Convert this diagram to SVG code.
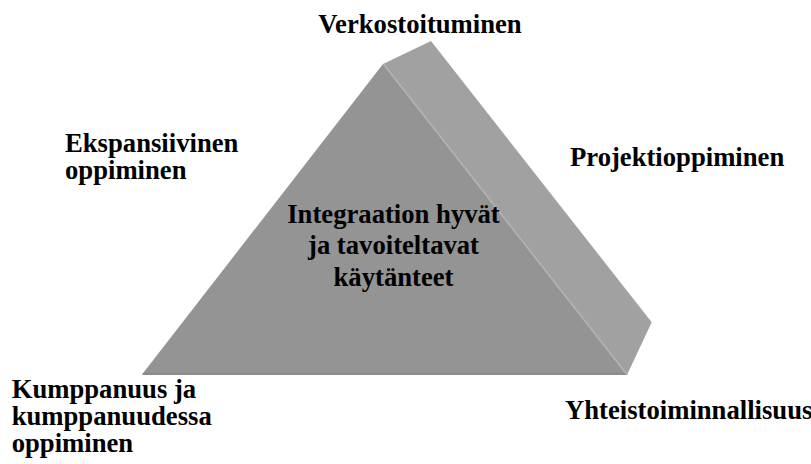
<svg xmlns="http://www.w3.org/2000/svg" width="811" height="464" viewBox="0 0 811 464">
<style>
text{font-family:"Liberation Serif","Times New Roman",serif;font-weight:bold;font-size:26.67px;fill:#000}
.front{fill:#949494}
.side{fill:#a1a1a1}
.ridge{stroke:#b2b2b2;stroke-width:1.6;fill:none}
.base{fill:#8b8b8b}
</style>
<rect width="811" height="464" fill="#fff"/>
<g id="pyramid">
<polygon class="side" points="383,64 431,41 651.7,322.3 627,375"/>
<polygon class="front" points="383,64 142,374.5 627,375"/>
<polygon class="base" points="144,372.5 625.5,372.5 627,375 142,375"/>
<line class="ridge" x1="383.5" y1="64" x2="626.5" y2="374"/>
</g>
<g id="center">
<text x="393.5" y="222.7" text-anchor="middle">Integraation hyvät</text>
<text x="393.5" y="254.3" text-anchor="middle">ja tavoiteltavat</text>
<text x="393.5" y="286" text-anchor="middle">käytänteet</text>
</g>
<g id="verkostoituminen"><text x="420" y="33.3" text-anchor="middle">Verkostoituminen</text></g>
<g id="ekspansiivinen"><text x="65" y="152.3">Ekspansiivinen</text><text x="65" y="179">oppiminen</text></g>
<g id="projektioppiminen"><text x="570" y="166">Projektioppiminen</text></g>
<g id="kumppanuus"><text x="11.7" y="398.3">Kumppanuus ja</text><text x="11.7" y="425">kumppanuudessa</text><text x="11.7" y="451.7">oppiminen</text></g>
<g id="yhteistoiminnallisuus"><text x="565" y="419.3">Yhteistoiminnallisuus</text></g>
<g id="connectors"></g>
</svg>
